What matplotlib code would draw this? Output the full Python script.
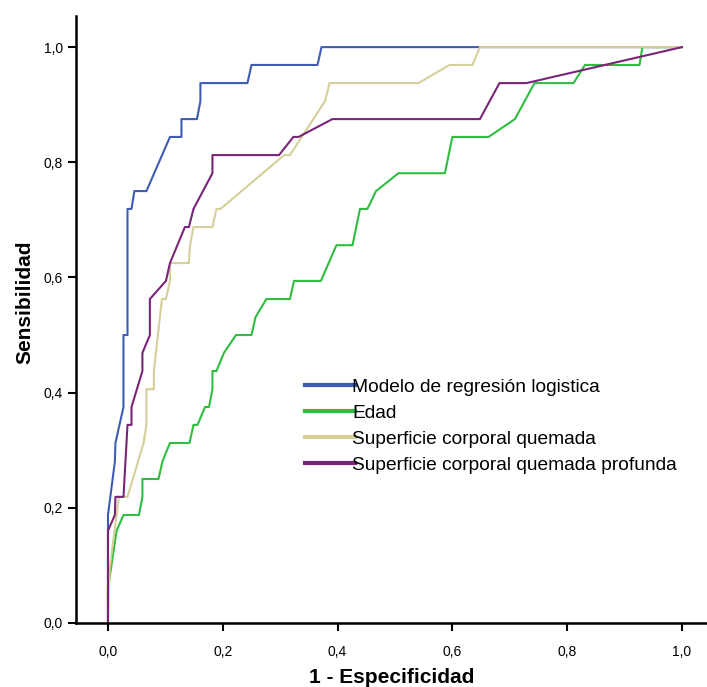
import matplotlib
matplotlib.use("Agg")
import matplotlib.pyplot as plt

plt.rcParams['font.family'] = ['Liberation Sans', 'DejaVu Sans']

# ROC curves: (1 - especificidad, sensibilidad)
modelo_x = [0, 0, 0.012, 0.013, 0.027, 0.027, 0.034, 0.034, 0.041, 0.046, 0.067,
            0.108, 0.128, 0.128, 0.155, 0.161, 0.161, 0.243, 0.25, 0.365, 0.372, 1.0]
modelo_y = [0, 0.1875, 0.28, 0.3125, 0.375, 0.5, 0.5, 0.719, 0.719, 0.75, 0.75,
            0.844, 0.844, 0.875, 0.875, 0.906, 0.9375, 0.9375, 0.969, 0.969, 1.0, 1.0]

edad_x = [0, 0, 0.015, 0.027, 0.054, 0.06, 0.06, 0.088, 0.095, 0.108, 0.142, 0.149,
          0.156, 0.169, 0.176, 0.182, 0.182, 0.189, 0.202, 0.223, 0.25, 0.257, 0.276,
          0.317, 0.324, 0.371, 0.398, 0.426, 0.439, 0.452, 0.467, 0.506, 0.587, 0.6,
          0.663, 0.709, 0.743, 0.811, 0.831, 0.926, 0.931, 1.0]
edad_y = [0, 0.06, 0.16, 0.1875, 0.1875, 0.219, 0.25, 0.25, 0.281, 0.3125, 0.3125, 0.344,
          0.344, 0.375, 0.375, 0.406, 0.4375, 0.4375, 0.469, 0.5, 0.5, 0.531, 0.5625,
          0.5625, 0.594, 0.594, 0.656, 0.656, 0.719, 0.719, 0.75, 0.781, 0.781, 0.844,
          0.844, 0.875, 0.9375, 0.9375, 0.969, 0.969, 1.0, 1.0]

scq_x = [0, 0.003, 0.019, 0.034, 0.062, 0.067, 0.067, 0.08, 0.08, 0.094, 0.101, 0.108,
         0.108, 0.141, 0.143, 0.149, 0.182, 0.189, 0.196, 0.307, 0.317, 0.378, 0.386,
         0.541, 0.595, 0.635, 0.648, 1.0]
scq_y = [0, 0.095, 0.219, 0.219, 0.3125, 0.344, 0.406, 0.406, 0.4375, 0.5625, 0.5625,
         0.594, 0.625, 0.625, 0.656, 0.6875, 0.6875, 0.719, 0.719, 0.8125, 0.8125,
         0.906, 0.9375, 0.9375, 0.969, 0.969, 1.0, 1.0]

scqp_x = [0, 0, 0.012, 0.013, 0.027, 0.034, 0.041, 0.041, 0.06, 0.06, 0.073, 0.073,
          0.101, 0.108, 0.134, 0.141, 0.149, 0.182, 0.182, 0.298, 0.323, 0.332, 0.391,
          0.648, 0.682, 0.729, 1.0]
scqp_y = [0, 0.16, 0.1875, 0.219, 0.219, 0.344, 0.344, 0.375, 0.4375, 0.469, 0.5,
          0.5625, 0.594, 0.625, 0.6875, 0.6875, 0.719, 0.781, 0.8125, 0.8125, 0.844,
          0.844, 0.875, 0.875, 0.9375, 0.9375, 1.0]

labels = ["Modelo de regresión logistica", "Edad", "Superficie corporal quemada",
          "Superficie corporal quemada profunda"]
colors = ["#3E5CB3", "#2EBD41", "#D5CF9A", "#7A2479"]

fig = plt.figure(figsize=(7.07, 6.87), dpi=100)
ax = fig.add_axes([0.1075, 0.0932, 0.8925, 0.8835])

series = [(modelo_x, modelo_y), (edad_x, edad_y), (scq_x, scq_y), (scqp_x, scqp_y)]
for (xs, ys), lab, col in zip(series, labels, colors):
    ax.plot(xs, ys, color=col, lw=1.5, label=lab)

ticks = [0, 0.2, 0.4, 0.6, 0.8, 1.0]
tick_txt = ["0,0", "0,2", "0,4", "0,6", "0,8", "1,0"]
ax.set_xlim(-0.0557, 1.0436)
ax.set_ylim(0, 1.054)
ax.set_xticks(ticks)
ax.set_yticks(ticks)
ax.set_xticklabels(tick_txt)
ax.set_yticklabels(tick_txt)
ax.tick_params(axis='both', direction='out', length=6, width=1.5, labelsize=10, colors='black')
ax.tick_params(axis='x', pad=10)

for s in ['top', 'right']:
    ax.spines[s].set_visible(False)
for s in ['left', 'bottom']:
    ax.spines[s].set_linewidth(1.8)

ax.set_xlabel("1 - Especificidad", fontsize=15, fontweight='bold', labelpad=6)
ax.set_ylabel("Sensibilidad", fontsize=15, fontweight='bold')
ax.yaxis.set_label_coords(-0.066, 0.529)

leg = ax.legend(loc='upper left', bbox_to_anchor=(0.351, 0.416), frameon=False,
                fontsize=13.8, handlelength=2.6, handletextpad=-0.16, labelspacing=0.45,
                borderaxespad=0)
for h in leg.legend_handles:
    h.set_linewidth(3)

fig.savefig("out.png", dpi=100)
